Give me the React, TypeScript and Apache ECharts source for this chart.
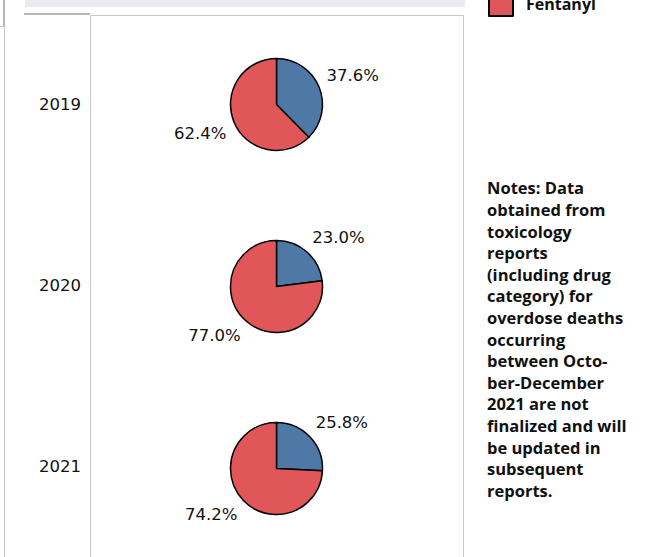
import React, { useEffect, useRef } from "react";
import * as echarts from "echarts";

const years = ["2019", "2020", "2021"];
const categoryNames = ["Non-fentanyl", "Fentanyl"];
const nonFentanylShare = [37.6, 23.0, 25.8];
const fentanylShare = [62.4, 77.0, 74.2];
const legendItems = ["Fentanyl"];
const noteLines = [
  "Notes: Data",
  "obtained from",
  "toxicology",
  "reports",
  "(including drug",
  "category) for",
  "overdose deaths",
  "occurring",
  "between Octo-",
  "ber-December",
  "2021 are not",
  "finalized and will",
  "be updated in",
  "subsequent",
  "reports.",
];

const W = 647;
const H = 557;
const PANEL_LEFT = 90;
const PANEL_RIGHT = 463;
const GRID_TOP = 13.5;
const ROW_H = 182;
const PIE_R = 46;
const LABEL_R = 54;
const BLUE = "#4e79a7";
const RED = "#e15759";
const NUM_FONT = "DejaVu Sans";
const TEXT_FONT = "Open Sans";

export default function App() {
  const ref = useRef<HTMLDivElement>(null);

  useEffect(() => {
    if (!ref.current) return;
    const chart = echarts.init(ref.current, undefined, { renderer: "svg" });
    const cx = (PANEL_LEFT + PANEL_RIGHT) / 2;
    const rowCenter = (i: number) => GRID_TOP + ROW_H * (i + 0.5);

    const pieSeries = years.map((year, i) => {
      const values = [nonFentanylShare[i], fentanylShare[i]];
      const total = values.reduce((a, b) => a + b, 0);
      const cy = rowCenter(i);
      return {
        type: "pie",
        name: year,
        center: [cx, cy],
        radius: [0, PIE_R],
        startAngle: 90,
        clockwise: true,
        silent: true,
        itemStyle: { borderColor: "#000", borderWidth: 1.5 },
        label: {
          show: true,
          position: "outside",
          formatter: (p: any) => Number(p.value).toFixed(1) + "%",
          fontFamily: NUM_FONT,
          fontSize: 16.5,
          color: "#111",
        },
        labelLine: { show: false },
        labelLayout: (params: any) => {
          const idx = params.dataIndex;
          let before = 0;
          for (let k = 0; k < idx; k++) before += values[k];
          const mid = ((before + values[idx] / 2) / total) * Math.PI * 2;
          const s = Math.sin(mid);
          const c = Math.cos(mid);
          return {
            x: cx + LABEL_R * s,
            y: cy - LABEL_R * c,
            align: s >= 0 ? "left" : "right",
            verticalAlign: c >= 0 ? "bottom" : "top",
          };
        },
        data: values.map((v, k) => ({
          name: categoryNames[k],
          value: v,
          itemStyle: { color: k === 0 ? BLUE : RED },
        })),
      };
    });

    chart.setOption({
      animation: false,
      legend: {
        data: legendItems,
        orient: "vertical",
        left: 488,
        top: -9,
        padding: 0,
        icon: "rect",
        itemWidth: 24,
        itemHeight: 24,
        selectedMode: false,
        itemStyle: { borderColor: "#000", borderWidth: 2, color: RED },
        textStyle: {
          fontFamily: TEXT_FONT,
          fontWeight: "bold",
          fontSize: 16,
          color: "#111",
          padding: [0, 0, 0, 8],
        },
      },
      grid: {
        left: PANEL_LEFT,
        right: W - PANEL_RIGHT,
        top: GRID_TOP,
        height: ROW_H * years.length,
        show: false,
      },
      xAxis: { type: "value", show: false, min: 0, max: 1 },
      yAxis: {
        type: "category",
        inverse: true,
        data: years,
        axisLine: { show: false },
        axisTick: { show: false },
        splitLine: { show: false },
        axisLabel: {
          margin: 9,
          fontFamily: NUM_FONT,
          fontSize: 16.5,
          color: "#111",
        },
      },
      graphic: [
        { type: "rect", silent: true, z: -1, shape: { x: 25, y: 0, width: 440, height: 7 }, style: { fill: "#ebebef" } },
        { type: "rect", silent: true, shape: { x: 3, y: 0, width: 2, height: 26 }, style: { fill: "#b5b5b5" } },
        { type: "line", silent: true, shape: { x1: 4.5, y1: 26, x2: 4.5, y2: H }, style: { stroke: "#c4c4c4", lineWidth: 1 } },
        { type: "line", silent: true, shape: { x1: 0, y1: 26.5, x2: 4, y2: 26.5 }, style: { stroke: "#c4c4c4", lineWidth: 1 } },
        { type: "rect", silent: true, shape: { x: 24, y: 13, width: 66, height: 2 }, style: { fill: "#b8b8b8" } },
        {
          type: "rect",
          silent: true,
          shape: { x: PANEL_LEFT + 0.5, y: 15.5, width: PANEL_RIGHT - PANEL_LEFT, height: 600 },
          style: { fill: "none", stroke: "#c8c8c8", lineWidth: 1 },
        },
        {
          type: "text",
          silent: true,
          x: 487,
          y: 177,
          style: {
            text: noteLines.join("\n"),
            fontFamily: TEXT_FONT,
            fontWeight: "bold",
            fontSize: 16.5,
            lineHeight: 21.6,
            fill: "#111",
          },
        },
      ],
      series: pieSeries,
    });

    return () => chart.dispose();
  }, []);

  return (
    <div
      ref={ref}
      style={{ position: "fixed", left: 0, top: 0, width: W, height: H, background: "#fff" }}
    />
  );
}
